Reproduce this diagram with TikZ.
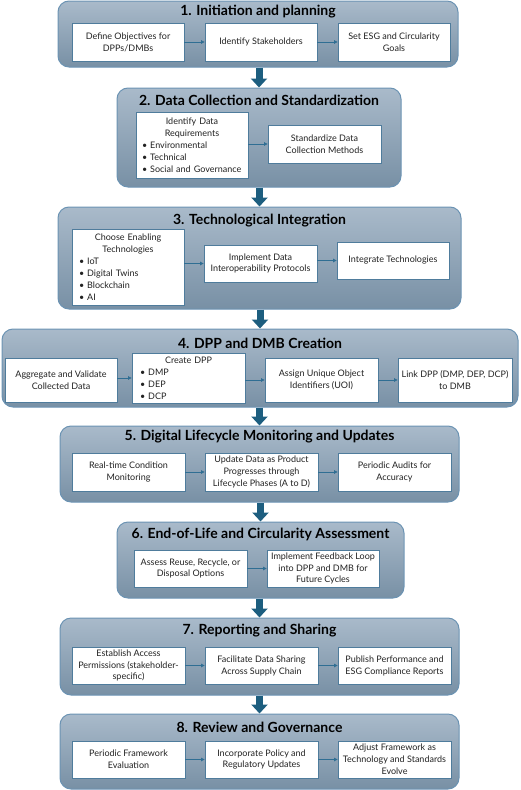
\documentclass[tikz,border=0pt]{standalone}
\usepackage{fontspec}
\setmainfont{Lato}
\usetikzlibrary{arrows.meta}
\definecolor{contTop}{HTML}{A9BACA}
\definecolor{contBot}{HTML}{7890A5}
\definecolor{contLine}{HTML}{6B93B3}
\definecolor{boxLine}{HTML}{4F7C9C}
\definecolor{bigArrow}{HTML}{1D5E7F}
\definecolor{smallArrow}{HTML}{2F6E93}
\definecolor{boxText}{HTML}{222222}
\newcommand\mkstage[7]{%
  \node[stagebox, minimum width={#4pt-#2pt}, minimum height={#5pt-#3pt}] (#1) at ({(#2+#4)/2},{(#3+#5)/2}) {};
  \node[stagetitle] (#1t) at ({(#2+#4)/2},#7) {#6};}
\newcommand\mkbox[7][]{%
  \node[flowbox, minimum width={#5pt-#3pt}, minimum height={#6pt-#4pt}, #1] (#2) at ({(#3+#5)/2},{(#4+#6)/2}) {#7};}
\begin{document}
\begin{tikzpicture}[x=1pt,y=-1pt,
  stagebox/.style={draw=contLine, line width=1pt, rounded corners=11pt, top color=contTop, bottom color=contBot, inner sep=0pt},
  stagetitle/.style={font=\bfseries\fontsize{14}{16}\selectfont, text=black, inner sep=0pt},
  flowbox/.style={draw=boxLine, line width=0.8pt, fill=white, inner sep=0pt, align=center, text=boxText, font=\fontsize{9}{11.9}\selectfont},
  listbox/.style={align=left},
  flow/.style={draw=smallArrow, line width=0.7pt, -{Triangle[length=3.5pt,width=3.5pt]}},
  bigflow/.style={draw=bigArrow, line width=7pt, -{Triangle[length=9pt,width=16pt]}}]
\useasboundingbox (0,0) rectangle (520,790);
% stages
\mkstage{s1}{58}{1}{458}{67}{1. Initiation and planning}{12}
\mkstage{s2}{117}{88}{401}{187}{2. Data Collection and Standardization}{100}
\mkstage{s3}{58}{207}{461}{309}{3. Technological Integration}{221}
\mkstage{s4}{2}{329}{518}{407}{4. DPP and DMB Creation}{343}
\mkstage{s5}{60}{426}{459}{502}{5. Digital Lifecycle Monitoring and Updates}{437}
\mkstage{s6}{117}{522}{404}{598}{6. End-of-Life and Circularity Assessment}{534}
\mkstage{s7}{60}{618}{459}{695}{7. Reporting and Sharing}{631}
\mkstage{s8}{60}{714}{459}{789}{8. Review and Governance}{727}
% stage 1
\mkbox{b11}{72}{23}{184}{61}{Define Objectives for\\DPPs/DMBs}
\mkbox{b12}{205}{23}{317}{61}{Identify Stakeholders}
\mkbox{b13}{338}{23}{450}{61}{Set ESG and Circularity\\Goals}
% stage 2
\mkbox[listbox, text width=100pt]{b21}{136}{112}{248}{178}{\centering Identify Data\\Requirements\par\raggedright
  \textbullet\ Environmental\\\textbullet\ Technical\\\textbullet\ Social and Governance}
\mkbox{b22}{268}{125}{381}{163}{Standardize Data\\Collection Methods}
% stage 3
\mkbox[listbox, text width=98pt]{b31}{72}{229}{184}{305}{\centering Choose Enabling\\Technologies\par\raggedright
  \textbullet\ IoT\\\textbullet\ Digital Twins\\\textbullet\ Blockchain\\\textbullet\ AI}
\mkbox{b32}{204}{245}{317}{282}{Implement Data\\Interoperability Protocols}
\mkbox{b33}{337}{242}{449}{279}{Integrate Technologies}
% stage 4
\mkbox{b41}{5}{358}{117}{402}{Aggregate and Validate\\Collected Data}
\mkbox[listbox, text width=97pt]{b42}{132}{353}{245}{403}{\centering Create DPP\par\raggedright
  \textbullet\ DMP\\\textbullet\ DEP\\\textbullet\ DCP}
\mkbox{b43}{265}{358}{378}{402}{Assign Unique Object\\Identifiers (UOI)}
\mkbox{b44}{398}{358}{512}{402}{Link DPP (DMP, DEP, DCP)\\to DMB}
% stage 5
\mkbox{b51}{72}{453}{185}{491}{Real-time Condition\\Monitoring}
\mkbox{b52}{205}{453}{318}{491}{Update Data as Product\\Progresses through\\Lifecycle Phases (A to D)}
\mkbox{b53}{338}{453}{451}{491}{Periodic Audits for\\Accuracy}
% stage 6
\mkbox{b61}{134}{550}{247}{587}{Assess Reuse, Recycle, or\\Disposal Options}
\mkbox{b62}{267}{550}{379}{587}{Implement Feedback Loop\\into DPP and DMB for\\Future Cycles}
% stage 7
\mkbox{b71}{72}{647}{185}{684}{Establish Access\\Permissions (stakeholder-\\specific)}
\mkbox{b72}{205}{647}{318}{684}{Facilitate Data Sharing\\Across Supply Chain}
\mkbox{b73}{338}{647}{451}{684}{Publish Performance and\\ESG Compliance Reports}
% stage 8
\mkbox{b81}{72}{741}{185}{778}{Periodic Framework\\Evaluation}
\mkbox{b82}{205}{741}{318}{778}{Incorporate Policy and\\Regulatory Updates}
\mkbox{b83}{338}{741}{451}{778}{Adjust Framework as\\Technology and Standards\\Evolve}
% small flows
\foreach \a/\b in {b11/b12,b12/b13,b21/b22,b31/b32,b32/b33,b41/b42,b42/b43,b43/b44,
  b51/b52,b52/b53,b61/b62,b71/b72,b72/b73,b81/b82,b82/b83}
  \draw[flow] (\a.east |- \b.west) -- (\b.west);
% big flows
\foreach \a/\b in {s1/s2,s2/s3,s3/s4,s4/s5,s5/s6,s6/s7,s7/s8}
  \draw[bigflow] (\a.south -| \b.north) -- (\b.north);
\end{tikzpicture}
\end{document}
